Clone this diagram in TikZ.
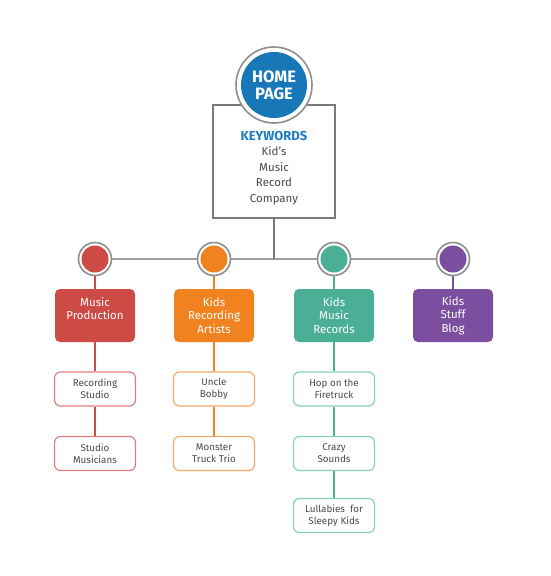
\documentclass[tikz,border=0pt]{standalone}
\usepackage{fontspec}
\setmainfont{Fira Sans}
\usetikzlibrary{backgrounds}
\definecolor{homeblue}{HTML}{1777B7}
\definecolor{kwblue}{HTML}{1C7EC2}
\definecolor{ringgray}{HTML}{8E8E8E}
\definecolor{linegray}{HTML}{A0A0A0}
\definecolor{boxgray}{HTML}{7A7A7A}
\definecolor{txtgray}{HTML}{4A4A4A}
\definecolor{cred}{HTML}{CE4A45}
\definecolor{lred}{HTML}{E27D7E}
\definecolor{corange}{HTML}{F0821F}
\definecolor{lorange}{HTML}{F6A866}
\definecolor{cteal}{HTML}{4BAF95}
\definecolor{lteal}{HTML}{86D0B8}
\definecolor{cpurple}{HTML}{7B4E9F}
\tikzset{
  ring/.style={circle, draw=ringgray, line width=1.6pt, fill=white, minimum size=#1, inner sep=0pt},
  dot/.style={circle, fill=#1, minimum size=27pt, inner sep=0pt},
  catbox/.style={rectangle, rounded corners=5pt, fill=#1, minimum width=80pt, minimum height=53pt,
     text=white, align=center, font=\fontsize{11.5}{13.3}\selectfont, inner sep=0pt},
  subbox/.style={rectangle, rounded corners=6pt, draw=#1, line width=1.2pt, fill=white,
     minimum width=81pt, minimum height=34pt, text=txtgray, align=center,
     font=\fontsize{9.8}{11.8}\selectfont, inner sep=0pt},
  link/.style={line width=1.8pt, draw=#1},
}
\begin{document}
\begin{tikzpicture}[x=1pt,y=-1pt]
\useasboundingbox (0,0) rectangle (550,576);
% keyword box
\node[rectangle, draw=boxgray, line width=1.6pt, fill=white, minimum width=122pt, minimum height=113pt, inner sep=0pt] (kw) at (274,161.5) {};
\node[align=center, inner sep=0pt, text=txtgray, font=\fontsize{11.5}{15.5}\selectfont] (kwtext) at (274,168)
  {{\color{kwblue}\bfseries\fontsize{13}{15.5}\selectfont KEYWORDS}\\Kid’s\\Music\\Record\\Company};
% home circle
\node[ring=76pt] (homering) at (274,85) {};
\node[circle, fill=homeblue, minimum size=66pt, inner sep=0pt, text=white, align=center,
  font=\bfseries\fontsize{16.5}{17}\selectfont] (home) at (274,85) {HOME\\PAGE};
% hub circles
\foreach \n/\x/\c in {1/95/cred,2/214/corange,3/334/cteal,4/453/cpurple}{
  \node[ring=33pt] (r\n) at (\x,259) {};
  \node[dot=\c] (c\n) at (\x,259) {};
}
\coordinate (hub) at (274,259);
% category boxes
\node[catbox=cred] (b1) at (95,315.5) {Music\\Production\\~};
\node[catbox=corange] (b2) at (214,315.5) {Kids\\Recording\\Artists};
\node[catbox=cteal] (b3) at (334,315.5) {Kids\\Music\\Records};
\node[catbox=cpurple] (b4) at (453,315.5) {Kids\\Stuff\\Blog};
% sub boxes
\node[subbox=lred] (s11) at (95,389) {Recording\\Studio};
\node[subbox=lred] (s12) at (95,453.5) {Studio\\Musicians};
\node[subbox=lorange] (s21) at (214,389) {Uncle\\Bobby};
\node[subbox=lorange] (s22) at (214,453.5) {Monster\\Truck Trio};
\node[subbox=lteal] (s31) at (334,389) {Hop on the\\Firetruck};
\node[subbox=lteal] (s32) at (334,453.5) {Crazy\\Sounds};
\node[subbox=lteal] (s33) at (334,515.5) {Lullabies~ for\\Sleepy Kids};
% connectors
\begin{scope}[on background layer]
  \draw[link=linegray] (r1) -- (r4);
  \draw[link=boxgray] (kw.south) -- (hub);
  \draw[link=cred] (c1) -- (b1);
  \draw[link=corange] (c2) -- (b2);
  \draw[link=cteal] (c3) -- (b3);
  \draw[link=cpurple] (c4) -- (b4);
  \draw[link=cred] (b1) -- (s11);
  \draw[link=cred] (s11) -- (s12);
  \draw[link=corange] (b2) -- (s21);
  \draw[link=corange] (s21) -- (s22);
  \draw[link=cteal] (b3) -- (s31);
  \draw[link=cteal] (s31) -- (s32);
  \draw[link=cteal] (s32) -- (s33);
\end{scope}
\end{tikzpicture}
\end{document}
